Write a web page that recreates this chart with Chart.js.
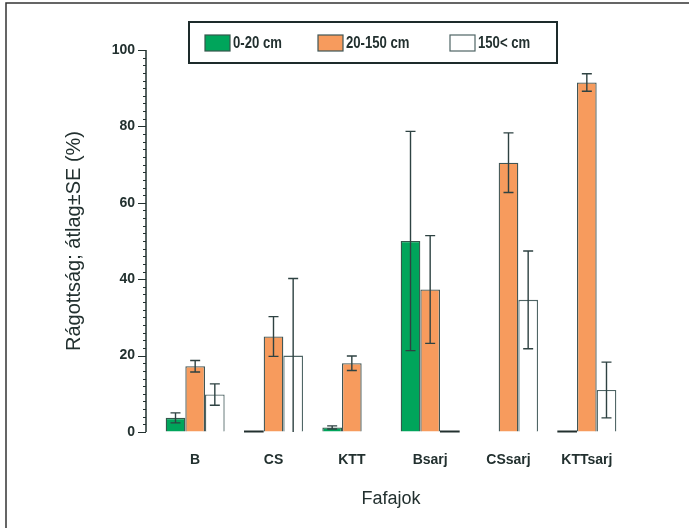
<!DOCTYPE html>
<html>
<head>
<meta charset="utf-8">
<script src="https://cdn.jsdelivr.net/npm/chart.js@4.4.1/dist/chart.umd.min.js"></script>
<style>
  html, body { margin: 0; padding: 0; background: #fff; }
</style>
</head>
<body>
<canvas id="chart" width="689" height="528"></canvas>
<script>
const categories = ["B", "CS", "KTT", "Bsarj", "CSsarj", "KTTsarj"];
const seriesLabels = ["0-20 cm", "20-150 cm", "150< cm"];

// mean values (%)
const small = [3.7, 0, 1.2, 50, null, 0];
const mid = [17.2, 25, 18, 37.3, 70.5, 91.5];
const large = [9.8, 20, null, 0, 34.6, 11];

// standard errors
const smallSE = [1.3, 0, 0.4, 28.7, null, 0];
const midSE = [1.5, 5.2, 1.9, 14.1, 7.8, 2.3];
const largeSE = [2.8, 20.2, null, 0, 12.8, 7.3];

const yTicks = [0, 20, 40, 60, 80, 100];

const ink = "#22302f";
const sans = "'Liberation Sans', Arial, sans-serif";

// y axis line sits a little left of the first category
const axisGap = 10;

const extras = {
  id: "extras",
  afterDatasetsDraw(chart) {
    const ctx = chart.ctx;
    const y = chart.scales.y;
    const seList = [smallSE, midSE, largeSE];

    ctx.save();
    chart.data.datasets.forEach((ds, di) => {
      const meta = chart.getDatasetMeta(di);
      meta.data.forEach((bar, i) => {
        const v = ds.data[i];
        if (v === null || v === undefined) return;
        const half = bar.width / 2;
        if (v === 0) {
          ctx.strokeStyle = ink;
          ctx.lineWidth = 2;
          ctx.beginPath();
          ctx.moveTo(bar.x - half, y.getPixelForValue(0) - 0.5);
          ctx.lineTo(bar.x + half, y.getPixelForValue(0) - 0.5);
          ctx.stroke();
          return;
        }
        const se = seList[di][i];
        if (!se) return;
        const top = y.getPixelForValue(v + se);
        const bot = y.getPixelForValue(Math.max(0, v - se));
        ctx.strokeStyle = "#2e4242";
        ctx.lineWidth = 1.4;
        ctx.beginPath();
        ctx.moveTo(bar.x, top);
        ctx.lineTo(bar.x, bot);
        ctx.moveTo(bar.x - 5, top);
        ctx.lineTo(bar.x + 5, top);
        if (v - se > 0) {
          ctx.moveTo(bar.x - 5, bot);
          ctx.lineTo(bar.x + 5, bot);
        }
        ctx.stroke();
      });
    });

    // y axis line with major and minor ticks
    const ax = y.right - axisGap;
    ctx.strokeStyle = ink;
    ctx.lineWidth = 1.5;
    ctx.beginPath();
    ctx.moveTo(ax, y.getPixelForValue(100));
    ctx.lineTo(ax, y.getPixelForValue(0));
    ctx.stroke();
    ctx.lineWidth = 1;
    ctx.beginPath();
    for (let t = 0; t <= 100; t += 2) {
      const py = Math.round(y.getPixelForValue(t)) + 0.5;
      const len = t % 20 === 0 ? 8 : 3;
      ctx.moveTo(ax - len, py);
      ctx.lineTo(ax, py);
    }
    ctx.stroke();

    // legend
    ctx.lineWidth = 2;
    ctx.strokeStyle = "#1d2b2b";
    ctx.strokeRect(189, 22, 368, 41);
    const swX = [205, 318, 450];
    ctx.textBaseline = "middle";
    ctx.textAlign = "left";
    chart.data.datasets.forEach((ds, di) => {
      ctx.fillStyle = ds.backgroundColor;
      ctx.fillRect(swX[di], 35, 25, 16);
      ctx.lineWidth = 1.2;
      ctx.strokeStyle = ds.borderColor;
      ctx.strokeRect(swX[di], 35, 25, 16);
      ctx.save();
      ctx.translate(swX[di] + 28, 44);
      ctx.scale(0.82, 1);
      ctx.font = "bold 16px " + sans;
      ctx.fillStyle = ink;
      ctx.fillText(ds.label, 0, 0);
      ctx.restore();
    });

    // outer frame
    ctx.strokeStyle = "#333";
    ctx.lineWidth = 1.5;
    ctx.beginPath();
    ctx.moveTo(6, 528);
    ctx.lineTo(6, 3);
    ctx.lineTo(689, 3);
    ctx.stroke();
    ctx.restore();
  }
};

new Chart(document.getElementById("chart"), {
  type: "bar",
  data: {
    labels: categories,
    datasets: [
      { label: seriesLabels[0], data: small, backgroundColor: "#00a55b", borderColor: "#34584c", borderWidth: 1.3 },
      { label: seriesLabels[1], data: mid, backgroundColor: "#f79b5d", borderColor: "#3f5656", borderWidth: 1.3 },
      { label: seriesLabels[2], data: large, backgroundColor: "#ffffff", borderColor: "#4f6565", borderWidth: 1.3 }
    ]
  },
  options: {
    responsive: false,
    animation: false,
    events: [],
    layout: { padding: { top: 50, right: 63, bottom: 0, left: 0 } },
    datasets: { bar: { categoryPercentage: 0.753, barPercentage: 1.0, skipNull: false } },
    plugins: { legend: { display: false }, tooltip: { enabled: false } },
    scales: {
      x: {
        grid: { display: false },
        border: { display: false },
        ticks: { padding: 12, color: ink, font: { family: sans, size: 14, weight: "bold" } },
        title: { display: true, text: "Fafajok", color: ink, padding: { top: 0, bottom: 18 }, font: { family: sans, size: 18 } },
        afterFit(scale) { scale.height = 96; }
      },
      y: {
        min: 0,
        max: 100,
        afterBuildTicks(scale) { scale.ticks = yTicks.map(v => ({ value: v })); },
        grid: { drawOnChartArea: false, tickLength: 18, color: "transparent", tickColor: "transparent" },
        border: { display: false },
        ticks: { padding: 3, color: ink, font: { family: sans, size: 14, weight: "bold" } },
        title: { display: true, text: "Rágottság; átlag±SE (%)", color: ink, padding: { top: 62, bottom: 0 }, font: { family: sans, size: 20 } },
        afterFit(scale) { scale.width = 156; }
      }
    }
  },
  plugins: [extras]
});
</script>
</body>
</html>
